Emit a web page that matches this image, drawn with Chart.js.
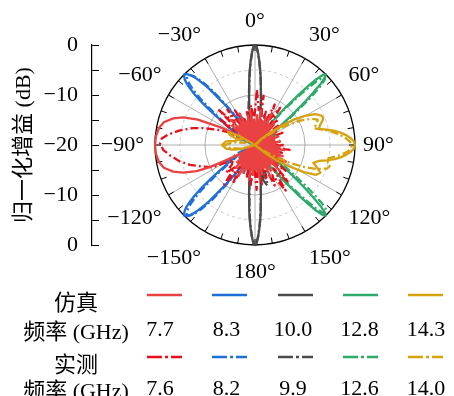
<!DOCTYPE html>
<html>
<head>
<meta charset="utf-8">
<script src="https://cdn.jsdelivr.net/npm/chart.js@4.4.1/dist/chart.umd.min.js"></script>
<style>
  html, body { margin: 0; padding: 0; background: #fff; }
  #wrap { position: relative; width: 454px; height: 396px; overflow: hidden; }
  #wrap canvas { position: absolute; left: 0; top: 0; }
  .lg { position: absolute; transform: translate(-50%, -50%); white-space: nowrap; line-height: 1;
        font: 22px 'Liberation Serif', 'Noto Sans CJK SC', serif; color: #000; }
  .sw { position: absolute; overflow: visible; }
</style>
</head>
<body>
<div id="wrap">
  <canvas id="axis" width="454" height="396"></canvas>
  <canvas id="polar" width="454" height="396"></canvas>
  <div id="legend"></div>
</div>
<script>
// angle tick labels, every 30 degrees clockwise from the top
const angleTickLabels = ['0°', '30°', '60°', '90°', '120°', '150°', '180°', '−150°', '−120°', '−90°', '−60°', '−30°'];
// left gain axis, top to bottom
const gainTickLabels = ['0', '−10', '−20', '−10', '0'];

const simFreqs = ['7.7', '8.3', '10.0', '12.8', '14.3'];
const measFreqs = ['7.6', '8.2', '9.9', '12.6', '14.0'];

// [angle in degrees, normalized gain in dB]
const sim77 = [
  [-124, -19], [-121, -17], [-119, -15], [-117, -12], [-116, -9.8], [-114, -7.2], [-111, -4.6], [-108, -2.8],
  [-104, -1.2], [-100, -0.5], [-95, -0.1], [-90, 0], [-85, -0.1], [-80, -0.5], [-76, -1.2], [-72, -2.8],
  [-69, -4.6], [-66, -7.5], [-65, -9.8], [-63, -12], [-61, -15], [-59, -17], [-56, -19],
  [-53, -17], [-50, -14], [-47, -19], [-44, -13], [-41, -18], [-38, -15], [-35, -20], [-32, -14], [-29, -18],
  [-26, -13], [-23, -19], [-20, -15], [-17, -18], [-14, -14], [-11, -20], [-8, -13], [-5, -17], [-2, -15],
  [1, -19], [4, -14], [7, -18], [10, -13], [13, -19], [16, -15], [19, -18], [22, -14], [25, -20], [28, -13],
  [31, -17], [34, -15], [37, -19], [40, -14], [43, -18], [46, -16], [49, -20], [52, -14], [55, -18], [58, -15],
  [61, -19], [64, -16], [67, -20], [70, -15], [73, -18], [76, -16], [79, -19], [82, -15], [85, -20], [88, -16],
  [91, -18], [94, -15], [97, -19], [100, -14], [103, -18], [106, -15], [109, -20], [112, -14], [115, -17],
  [118, -13], [121, -19], [124, -15], [127, -18], [130, -14], [133, -20], [136, -13], [139, -17], [142, -15],
  [145, -19], [148, -14], [151, -18], [154, -13], [157, -20], [160, -15], [163, -18], [166, -14], [169, -19],
  [172, -13], [175, -17], [178, -15],
  [-179, -19], [-176, -14], [-173, -18], [-170, -13], [-167, -20], [-164, -15], [-161, -17], [-158, -14],
  [-155, -19], [-152, -13], [-149, -18], [-146, -15], [-143, -20], [-140, -14], [-137, -17], [-134, -15],
  [-131, -19], [-128, -16]
];
const meas76 = [
  [-130, -14], [-124, -14.7], [-118, -10.5], [-112, -8.5], [-107, -6.4], [-102, -4.5], [-97, -2.9], [-93, -1.6],
  [-89, -1], [-86, -1.3], [-83, -2.6], [-79, -4.7], [-75, -7], [-72, -9.1], [-68, -11.8], [-65, -13.8], [-62, -16.6],
  [-58, -15], [-54, -11], [-50, -17], [-46, -10], [-42, -14], [-38, -11], [-34, -16], [-30, -12], [-26, -17],
  [-22, -14], [-18, -19], [-14, -13], [-10, -17], [-6, -12], [-2, -15], [2, -9], [6, -13], [10, -10], [14, -16],
  [18, -13], [22, -17], [26, -11], [30, -14], [34, -11], [38, -16], [42, -13], [46, -18], [50, -14], [54, -19],
  [58, -15], [62, -18], [66, -14], [70, -19], [74, -16], [78, -20], [82, -15], [86, -18], [90, -14], [94, -17],
  [98, -13], [102, -18], [106, -14], [110, -17], [114, -15], [118, -19], [122, -13], [126, -17], [130, -12],
  [134, -15], [138, -10], [142, -14], [146, -9], [150, -13], [154, -11], [158, -16], [162, -13], [166, -17],
  [170, -12], [174, -15], [178, -11],
  [-178, -16], [-174, -12], [-170, -17], [-166, -13], [-162, -18], [-158, -14], [-154, -16], [-150, -11],
  [-146, -15], [-142, -10], [-138, -14], [-134, -12]
];
const sim83 = [
  [-180, -20], [-170, -17], [-165, -14], [-160, -18], [-155, -19],
  [-152, -17.5], [-148, -15], [-145, -12.5], [-143, -9.5], [-141, -5.8], [-140, -4.2], [-139, -2.8], [-138, -1.6],
  [-137, -0.8], [-136, -0.3], [-135, 0], [-134, -0.3], [-133, -0.8], [-132, -1.6], [-131, -2.8], [-130, -4.2],
  [-129, -5.8], [-127, -9.5], [-125, -12.5], [-122, -15], [-118, -17.5], [-113, -19], [-105, -20],
  [-75, -20], [-70, -19], [-66, -16.5],
  [-62, -17.5], [-58, -15], [-55, -12.5], [-53, -9.5], [-51, -5.8], [-50, -4.2], [-49, -2.8], [-48, -1.6],
  [-47, -0.8], [-46, -0.3], [-45, 0], [-44, -0.3], [-43, -0.8], [-42, -1.6], [-41, -2.8], [-40, -4.2],
  [-39, -5.8], [-37, -9.5], [-35, -12.5], [-32, -15], [-28, -17.5], [-25, -14], [-21, -18], [-15, -20],
  [0, -20], [90, -20], [180, -20]
];
const meas82 = [
  [-180, -20], [-172, -18], [-166, -15], [-161, -17.5], [-157, -14],
  [-153, -18], [-149, -15.5], [-146, -12.8], [-144, -9.8], [-142, -6.2], [-141, -4.6], [-140, -3.2], [-139, -2],
  [-138, -1.2], [-137, -0.7], [-136, -0.4], [-135, -0.7], [-134, -1.2], [-133, -2], [-132, -3.2], [-131, -4.6],
  [-130, -6.2], [-128, -9.8], [-126, -12.8], [-123, -15.5], [-120, -13], [-116, -16], [-111, -19], [-100, -20],
  [-75, -20], [-69, -17], [-64, -14],
  [-61, -18], [-57, -15.5], [-54, -12.8], [-52, -9.8], [-50, -6.2], [-49, -4.6], [-48, -3.2], [-47, -2],
  [-46, -1.2], [-45, -0.7], [-44, -0.6], [-43, -0.9], [-42, -1.4], [-41, -2.2], [-40, -3.4], [-39, -4.8],
  [-38, -6.4], [-36, -10], [-34, -13], [-31, -15.5], [-28, -13], [-24, -16], [-19, -19], [-12, -20],
  [0, -20], [90, -20], [180, -20]
];
const sim100 = [
  [-180, 0], [-179, -0.4], [-178, -1.7], [-177, -3.3], [-176, -5], [-175, -6.8], [-173, -10.3], [-171, -12.8],
  [-168, -15.2], [-164, -17.5], [-160, -19], [-150, -20], [-30, -20], [-20, -19], [-16, -17.5], [-12, -15.2],
  [-9, -12.8], [-7, -10.3], [-5, -6.8], [-4, -5], [-3, -3.3], [-2, -1.7], [-1, -0.4], [0, 0], [1, -0.4],
  [2, -1.7], [3, -3.3], [4, -5], [5, -6.8], [7, -10.3], [9, -12.8], [12, -15.2], [16, -17.5], [20, -19],
  [30, -20], [150, -20], [158, -18], [163, -14.5], [166, -13], [168, -14], [171, -12.8], [173, -10.3],
  [175, -6.8], [176, -5], [177, -3.3], [178, -1.7], [179, -0.4]
];
const meas99 = [
  [-180, -0.3], [-179, -0.6], [-178, -1.8], [-177, -3.5], [-176, -5.3], [-175, -7.2], [-173, -10.6], [-171, -13],
  [-168, -14.8], [-165, -13.5], [-162, -16], [-157, -19], [-150, -20], [-30, -20], [-22, -18], [-17, -15.5],
  [-13, -14], [-10, -12.5], [-7, -10], [-5, -7], [-4, -5.2], [-3, -3.4], [-2, -1.8], [-1, -0.5], [0, -0.2],
  [1, -0.5], [2, -1.8], [3, -3.4], [4, -5.2], [5, -7], [7, -10], [9, -12], [12, -13.5], [15, -16], [19, -18.5],
  [28, -20], [150, -20], [156, -17], [160, -13.5], [163, -11.5], [166, -12.5], [169, -13], [171, -12.5],
  [173, -10.4], [175, -7], [176, -5.2], [177, -3.4], [178, -1.8], [179, -0.6]
];
const sim128 = [
  [-180, -20], [0, -20], [15, -20], [22, -17], [25, -15], [28, -17], [31, -17.5], [35, -15], [37, -13.5],
  [39, -10.5], [41, -6.5], [42, -4.3], [43, -2], [44, -0.6], [45, 0], [46, -0.6], [47, -2], [48, -4.3],
  [49, -6.5], [51, -10.5], [53, -13.5], [55, -15], [59, -17.5], [63, -16], [67, -18], [75, -20], [105, -20],
  [112, -18], [116, -16], [121, -17.5], [125, -15], [127, -13.5], [129, -10.5], [131, -6.5], [132, -4.3],
  [133, -2], [134, -0.6], [135, 0], [136, -0.6], [137, -2], [138, -4.3], [139, -6.5], [141, -10.5],
  [143, -13.5], [145, -15], [149, -17.5], [153, -15.5], [157, -18], [165, -20], [180, -20]
];
const meas126 = [
  [-180, -20], [0, -20], [14, -20], [20, -16.5], [24, -14], [28, -16.5], [32, -17], [36, -15], [38, -13.2],
  [40, -10.2], [42, -6.4], [43, -4.4], [44, -2.3], [45, -1], [46, -0.5], [47, -1], [48, -2.3], [49, -4.4],
  [50, -6.6], [52, -10.8], [54, -13.6], [56, -15.2], [60, -17], [64, -15], [68, -17.5], [76, -20], [104, -20],
  [110, -17], [115, -15], [119, -17], [123, -15.2], [125, -13.5], [127, -10.6], [129, -6.6], [130, -4.4],
  [131, -2.3], [132, -1], [133, -0.5], [134, -0.4], [135, -0.9], [136, -2.2], [137, -4.4], [138, -6.6],
  [140, -10.6], [142, -13.4], [144, -15], [148, -17], [152, -14.5], [156, -17.5], [166, -20], [180, -20]
];
const sim143 = [
  [-180, -20], [-112, -20], [-106, -17], [-102, -15.5], [-97, -14.2], [-90, -13.4], [-83, -14.2], [-78, -16],
  [-73, -16.5], [-68, -14.5], [-64, -14], [-60, -16.5], [-55, -20], [0, -20], [40, -20], [46, -18.5], [50, -16.5],
  [54, -13.5], [57, -10.5], [60, -8.2], [63, -6.4], [66, -5.5], [68, -5.3], [70, -5.6], [73, -6.4], [76, -6.8],
  [78, -5.3], [80, -3.8], [82, -2.6], [84, -1.6], [86, -0.8], [88, -0.2], [90, 0], [92, -0.2], [94, -0.8],
  [96, -1.6], [98, -2.6], [100, -3.8], [102, -5.3], [104, -6.8], [107, -7.8], [110, -6.8], [113, -5.8],
  [116, -6.4], [119, -8.8], [122, -12], [125, -14.5], [128, -17], [133, -20], [180, -20]
];
const meas140 = [
  [-180, -20], [-110, -20], [-104, -17], [-97, -15], [-90, -14], [-83, -15.5], [-77, -18], [-70, -16],
  [-64, -17.5], [-56, -20], [0, -20], [42, -20], [50, -18], [55, -15], [59, -12], [62, -9.5], [65, -7.6],
  [68, -6.5], [71, -6.9], [74, -7.8], [77, -6.2], [80, -4.5], [83, -3], [86, -1.7], [88, -1], [90, -0.6],
  [92, -0.8], [94, -1.4], [96, -2.4], [98, -3.6], [100, -5], [102, -5.4], [105, -4.4], [108, -4.8],
  [111, -6.6], [114, -9], [117, -12], [120, -15], [124, -18], [130, -20], [180, -20]
];

const SERIF = "'Liberation Serif', 'Noto Sans CJK SC', serif";
const RED = '#ea4242', RED_M = '#e5101c', BLUE = '#1f6fd8', GRAY = '#4b4b4b', GREEN = '#2eaa6a', GOLD = '#d6a20e';
const DASHDOT = [8, 3, 2, 3];

// one label per degree; the radar scale puts 0 at the top, clockwise
const angleLabels = [];
for (let i = 0; i < 360; i++) angleLabels.push(String(i));

function toRadial(pairs) {
  const out = new Array(360).fill(null);
  pairs.forEach(([deg, db]) => { out[(deg + 360) % 360] = Math.max(db, -20); });
  return out;
}

function series(label, pairs, color, dash) {
  return {
    label: label,
    data: toRadial(pairs),
    borderColor: color,
    borderWidth: 2.3,
    borderDash: dash || [],
    borderJoinStyle: 'round',
    spanGaps: true,
    fill: false,
    pointRadius: 0
  };
}

// first dataset is drawn on top
const datasets = [
  series('仿真 14.3', sim143, GOLD),
  series('实测 14.0', meas140, GOLD, DASHDOT),
  series('仿真 7.7', sim77, RED),
  series('实测 7.6', meas76, RED_M, DASHDOT),
  series('仿真 12.8', sim128, GREEN),
  series('实测 12.6', meas126, GREEN, DASHDOT),
  series('仿真 8.3', sim83, BLUE),
  series('实测 8.2', meas82, BLUE, DASHDOT),
  series('仿真 10.0', sim100, GRAY),
  series('实测 9.9', meas99, GRAY, DASHDOT)
];

const polarDecor = {
  id: 'polarDecor',
  beforeDatasetsDraw(chart) {
    // short ticks inside the rim every 10 degrees
    const s = chart.scales.r, ctx = chart.ctx, R = s.drawingArea;
    ctx.save();
    ctx.strokeStyle = '#000';
    ctx.lineWidth = 1;
    for (let a = 0; a < 360; a += 10) {
      const p1 = s.getPointPosition(a, R);
      const p2 = s.getPointPosition(a, R - 6);
      ctx.beginPath();
      ctx.moveTo(p1.x, p1.y);
      ctx.lineTo(p2.x, p2.y);
      ctx.stroke();
    }
    ctx.restore();
  },
  afterDraw(chart) {
    const s = chart.scales.r, ctx = chart.ctx, R = s.drawingArea;
    ctx.save();
    ctx.fillStyle = '#000';
    ctx.font = '22px ' + SERIF;
    angleTickLabels.forEach((txt, k) => {
      const a = k * 30;
      const p = s.getPointPosition(a, R + 8);
      ctx.textAlign = (a === 0 || a === 180) ? 'center' : (a < 180 ? 'left' : 'right');
      let y = p.y;
      if (a === 90 || a === 270) { ctx.textBaseline = 'middle'; }
      else if (a < 90 || a > 270) { ctx.textBaseline = 'alphabetic'; y = p.y - 10; }
      else { ctx.textBaseline = 'alphabetic'; y = p.y + 25; }
      ctx.fillText(txt, a === 270 ? p.x - 3 : p.x, y);
    });
    ctx.restore();
  }
};

new Chart(document.getElementById('polar'), {
  type: 'radar',
  data: { labels: angleLabels, datasets: datasets },
  options: {
    responsive: false,
    animation: false,
    events: [],
    layout: { padding: { left: 155, top: 45, right: 99, bottom: 151 } },
    plugins: { legend: { display: false }, tooltip: { enabled: false } },
    elements: { line: { tension: 0 }, point: { radius: 0 } },
    scales: {
      r: {
        min: -20,
        max: 0,
        ticks: { display: false, stepSize: 5 },
        pointLabels: { display: false },
        angleLines: {
          color: '#9a9a9a',
          lineWidth: (c) => (c.index % 30 === 0 ? 0.8 : 0)
        },
        grid: {
          circular: true,
          color: (c) => (c.tick.value === 0 ? '#000' : (c.tick.value === -10 ? '#9a9a9a' : '#bdbdbd')),
          lineWidth: (c) => (c.tick.value === 0 ? 1.3 : 0.8)
        },
        border: {
          dash: (c) => (c.tick && (c.tick.value === -5 || c.tick.value === -15) ? [3, 3] : [])
        }
      }
    }
  },
  plugins: [polarDecor]
});

// left gain axis, drawn as its own linear scale
new Chart(document.getElementById('axis'), {
  type: 'scatter',
  data: { datasets: [] },
  options: {
    responsive: false,
    animation: false,
    events: [],
    layout: { padding: { left: 0, top: 45, right: 355, bottom: 151 } },
    plugins: { legend: { display: false }, tooltip: { enabled: false } },
    scales: {
      x: { display: false, min: 0, max: 1 },
      y: {
        position: 'left',
        min: -20,
        max: 20,
        afterFit: (s) => { s.width = 92; },
        ticks: {
          stepSize: 5,
          autoSkip: false,
          padding: 14,
          color: '#000',
          font: { family: SERIF, size: 22 },
          callback: (v) => (v % 10 === 0 ? gainTickLabels[(20 - v) / 10] : '')
        },
        grid: { drawTicks: false, color: '#000', lineWidth: 1 },
        border: { color: '#000', width: 1.2 },
        title: {
          display: true,
          text: '归一化增益 (dB)',
          color: '#000',
          font: { family: SERIF, size: 22 },
          padding: { top: 11, bottom: 0 }
        }
      }
    }
  }
});

// legend table below the plot
const legend = document.getElementById('legend');
const legendColors = [RED, BLUE, GRAY, GREEN, GOLD];
const measColors = [RED_M, BLUE, GRAY, GREEN, GOLD];

function addText(txt, x, y) {
  const d = document.createElement('div');
  d.className = 'lg';
  d.textContent = txt;
  d.style.left = x + 'px';
  d.style.top = y + 'px';
  legend.appendChild(d);
}

function addSwatch(x, y, color, dash) {
  const ns = 'http://www.w3.org/2000/svg';
  const svg = document.createElementNS(ns, 'svg');
  svg.setAttribute('class', 'sw');
  svg.setAttribute('width', '35');
  svg.setAttribute('height', '6');
  svg.style.left = x + 'px';
  svg.style.top = (y - 3) + 'px';
  const ln = document.createElementNS(ns, 'line');
  ln.setAttribute('x1', '0'); ln.setAttribute('y1', '3');
  ln.setAttribute('x2', '35'); ln.setAttribute('y2', '3');
  ln.setAttribute('stroke', color);
  ln.setAttribute('stroke-width', '2.6');
  if (dash) ln.setAttribute('stroke-dasharray', dash);
  svg.appendChild(ln);
  legend.appendChild(svg);
}

addText('仿真', 76, 300);
addText('频率 (GHz)', 76, 329);
addText('实测', 76, 362);
addText('频率 (GHz)', 76, 388);
simFreqs.forEach((f, i) => {
  addSwatch(147 + 65.3 * i, 295, legendColors[i]);
  addText(f, 160 + 66.5 * i, 329);
});
measFreqs.forEach((f, i) => {
  addSwatch(147 + 65.3 * i, 357, measColors[i], '15 3 3 3');
  addText(f, 160 + 66.5 * i, 388);
});
</script>
</body>
</html>
